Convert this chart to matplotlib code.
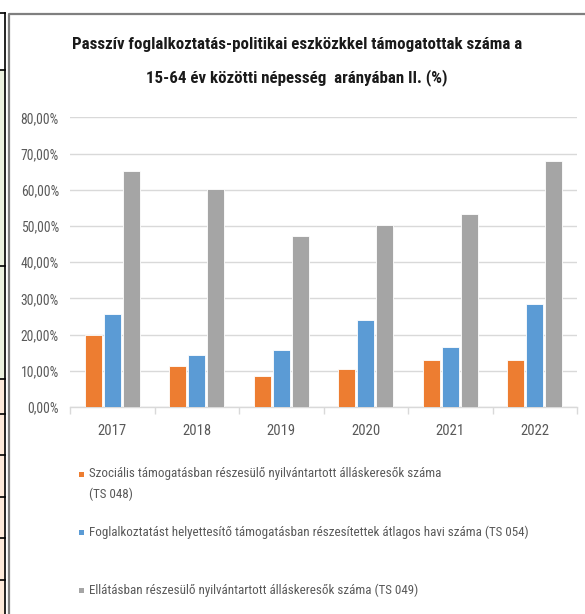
import numpy as np
import matplotlib
matplotlib.use("Agg")
import matplotlib.pyplot as plt
from matplotlib import font_manager
from matplotlib.patches import Rectangle
from matplotlib.lines import Line2D
from matplotlib.ticker import FuncFormatter

installed = {f.name for f in font_manager.fontManager.ttflist}
narrow = [n for n in ['Liberation Sans Narrow', 'Roboto Condensed', 'Lato'] if n in installed]
plt.rcParams['font.family'] = narrow[:1] + ['DejaVu Sans']

years = ['2017', '2018', '2019', '2020', '2021', '2022']
szocialis = [19.9, 11.3, 8.5, 10.4, 13.0, 13.0]       # TS 048
foglalkoztatast = [25.6, 14.3, 15.8, 24.0, 16.6, 28.4]  # TS 054
ellatasban = [65.3, 60.3, 47.3, 50.3, 53.4, 67.8]      # TS 049
labels = ['Szociális támogatásban részesülő nyilvántartott álláskeresők száma\n(TS 048)',
          'Foglalkoztatást helyettesítő támogatásban részesítettek átlagos havi száma (TS 054)',
          'Ellátásban részesülő nyilvántartott álláskeresők száma (TS 049)']
colors = ['#ED7D31', '#5B9BD5', '#A5A5A5']

W, H = 585, 614
fig = plt.figure(figsize=(W / 100, H / 100), dpi=100)

def fx(px):
    return px / W

def fy(py):
    return 1 - py / H

# left strip (cropped sheet cells)
fig.patches.append(Rectangle((0, 0), fx(5), fy(70), transform=fig.transFigure,
                             facecolor='#EBF1DE', edgecolor='none', zorder=0))
fig.patches.append(Rectangle((0, 0), fx(5), fy(379), transform=fig.transFigure,
                             facecolor='#FDE9D9', edgecolor='none', zorder=0))
fig.lines.append(Line2D([fx(5), fx(5)], [fy(13), 0], transform=fig.transFigure, color='black', lw=1.2))
for yy in [13, 70, 266, 379, 414, 455, 497, 538, 580]:
    fig.lines.append(Line2D([0, fx(5)], [fy(yy), fy(yy)], transform=fig.transFigure, color='black', lw=1.2))
# chart frame
fig.lines.append(Line2D([fx(9), fx(9), 1], [0, fy(13.5), fy(13.5)], transform=fig.transFigure,
                        color='#7F7F7F', lw=1.6))

ax = fig.add_axes([fx(70), fy(407), fx(577) - fx(70), fy(117.3) - fy(407)])
x = np.arange(len(years))
bw = 0.2
step = 0.225
for i, (vals, c) in enumerate(zip([szocialis, foglalkoztatast, ellatasban], colors)):
    ax.bar(x + (i - 1) * step, np.array(vals) / 100, bw, color=c, edgecolor='#FFFFFF',
           linewidth=0.6, zorder=3)

ax.set_xlim(-0.5, len(years) - 0.5)
ax.set_ylim(0, 0.8)
ax.set_yticks(np.arange(0, 0.81, 0.1))
ax.yaxis.set_major_formatter(FuncFormatter(lambda v, p: f'{v * 100:.2f}%'.replace('.', ',')))
ax.grid(axis='y', color='#D9D9D9', lw=1, zorder=0)
for s in ['top', 'right', 'left']:
    ax.spines[s].set_visible(False)
ax.spines['bottom'].set_color('#D9D9D9')
ax.spines['bottom'].set_linewidth(1)
ax.set_xticks(x)
ax.set_xticklabels(years)
ax.set_xticks(np.arange(-0.5, len(years)), minor=True)
ax.tick_params(axis='x', which='major', length=0, pad=12, labelsize=10.5, labelcolor='#595959')
ax.tick_params(axis='x', which='minor', length=5, color='#D9D9D9', width=1)
ax.tick_params(axis='y', length=0, pad=8, labelsize=9.8, labelcolor='#595959')

fig.text(fx(297), fy(45), 'Passzív foglalkoztatás-politikai eszközkkel támogatottak száma a',
         ha='center', va='center', fontsize=12.2, fontweight='bold', color='#1A1A1A')
fig.text(fx(297), fy(78), '15-64 év közötti népesség  arányában II. (%)',
         ha='center', va='center', fontsize=12.2, fontweight='bold', color='#1A1A1A')

# legend
leg_y = [474, 532, 590]
for lab, c, yy in zip(labels, colors, leg_y):
    fig.patches.append(Rectangle((fx(79), fy(yy + 3)), fx(5), 5 / H, transform=fig.transFigure,
                                 facecolor=c, edgecolor='none'))
    if '\n' in lab:
        fig.text(fx(89), fy(yy - 7.5), lab, ha='left', va='top', fontsize=9.4, color='#595959',
                 linespacing=1.8)
    else:
        fig.text(fx(89), fy(yy), lab, ha='left', va='center', fontsize=9.4, color='#595959')

fig.savefig('out.png', dpi=100)
